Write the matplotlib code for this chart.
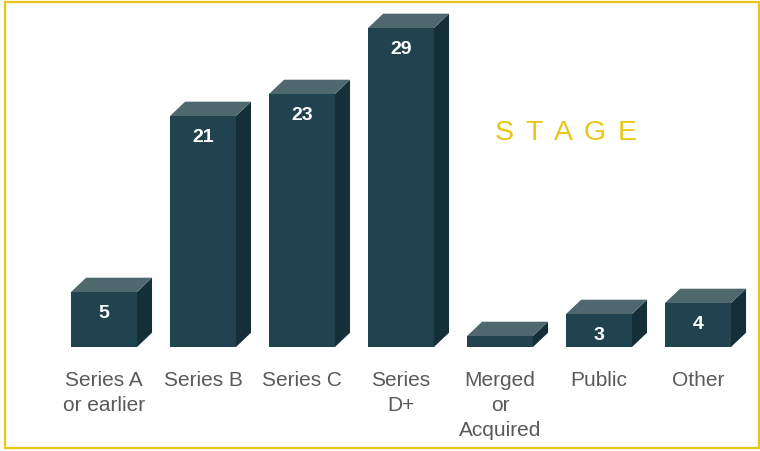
import matplotlib
matplotlib.use("Agg")
import matplotlib.pyplot as plt
from matplotlib.patches import Polygon, Rectangle

# data
stages = ["Series A\nor earlier", "Series B", "Series C", "Series\nD+",
          "Merged\nor\nAcquired", "Public", "Other"]
counts = [5, 21, 23, 29, 1, 3, 4]

title_letters = list("STAGE")
title_x = [504, 534, 563.5, 595, 627.5]   # letter centres in pixels (spaced title)

# colours
front_c = "#21434f"
top_c = "#4e686e"
side_c = "#152f38"
label_c = "#5a5a5a"
yellow = "#e9c716"

plt.rcParams['font.family'] = ['Liberation Sans', 'DejaVu Sans']

fig = plt.figure(figsize=(7.6, 4.51), dpi=100)
ax = fig.add_axes([0, 0, 1, 1])
ax.set_xlim(-1.0505, 6.626)
ax.set_ylim(-9.4545, 31.545)
ax.axis("off")

half_w = 0.333   # half width of front face
dx = 0.152       # depth offset in x
dy = 1.3         # depth offset in y

for i, (name, v) in enumerate(zip(stages, counts)):
    l, r = i - half_w, i + half_w
    # side face
    ax.add_patch(Polygon([(r, 0), (r + dx, dy), (r + dx, v + dy), (r, v)],
                         closed=True, facecolor=side_c, edgecolor="none"))
    # top face
    ax.add_patch(Polygon([(l, v), (r, v), (r + dx, v + dy), (l + dx, v + dy)],
                         closed=True, facecolor=top_c, edgecolor="none"))
    # front face
    ax.add_patch(Rectangle((l, 0), 2 * half_w, v, facecolor=front_c,
                           edgecolor="none"))
    if v >= 2:
        ax.text(i, v - 2.0, str(v), color="white", fontsize=14,
                fontweight="bold", ha="center", va="center")
    ax.text(i, -2.2, name, color=label_c, fontsize=15, ha="center",
            va="top", linespacing=1.38)

for ch, px in zip(title_letters, title_x):
    fig.text(px / 760, 1 - 133 / 451, ch, color=yellow, fontsize=20.5,
             ha="center", va="center")

fig.add_artist(Rectangle((4.5 / 760, 3.0 / 451), 754 / 760, 446.5 / 451,
                         transform=fig.transFigure, fill=False,
                         edgecolor=yellow, lw=1.6))

fig.savefig("out.png", dpi=100)
